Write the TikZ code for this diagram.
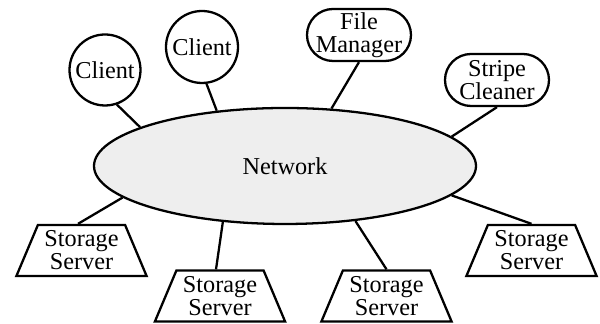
\documentclass[tikz,border=0pt]{standalone}
\usepackage{fontspec}
\setmainfont{Liberation Serif}
\usetikzlibrary{shapes.geometric}

\begin{document}
\begin{tikzpicture}[line width=1.3pt,
  every node/.style={font=\fontsize{13.8}{13}\selectfont},
  client/.style={draw,circle,inner sep=0pt,minimum size=1.42cm},
  proc/.style={draw,rounded corners=0.52cm,minimum width=2.08cm,minimum height=1.04cm,inner sep=0pt,align=center},
  server/.style={draw,trapezium,trapezium left angle=65,trapezium right angle=65,trapezium stretches=true,
    minimum width=2.62cm,minimum height=1.02cm,inner sep=0pt,align=center}]
\useasboundingbox (0,0) rectangle (12,6.48);
\node[draw,ellipse,fill=gray!13,minimum width=7.64cm,minimum height=2.32cm] (net) at (5.7,3.16) {Network};
\node[client] (c1) at (2.1,5.08) {Client};
\node[client,minimum size=1.44cm] (c2) at (4.04,5.54) {Client};
\node[proc] (fm) at (7.18,5.78) {File\\Manager};
\node[proc] (sc) at (9.94,4.88) {Stripe\\Cleaner};
\node[server] (s1) at (1.63,1.47) {Storage\\Server};
\node[server] (s2) at (4.4,0.56) {Storage\\Server};
\node[server] (s3) at (7.73,0.56) {Storage\\Server};
\node[server] (s4) at (10.63,1.47) {Storage\\Server};
% links to the network
\draw (c1.-71) -- (net.165);
\draw (c2.-83) -- (net.141);
\draw (fm.south) -- (net.51);
\draw (sc.south) -- (net.10);
\draw ([xshift=-0.07cm]s1.north) -- (net.-169);
\draw ([xshift=-0.08cm]s2.north) -- (net.-138);
\draw (s3.north) -- (net.-38);
\draw (s4.north) -- (net.-10);
\end{tikzpicture}
\end{document}
